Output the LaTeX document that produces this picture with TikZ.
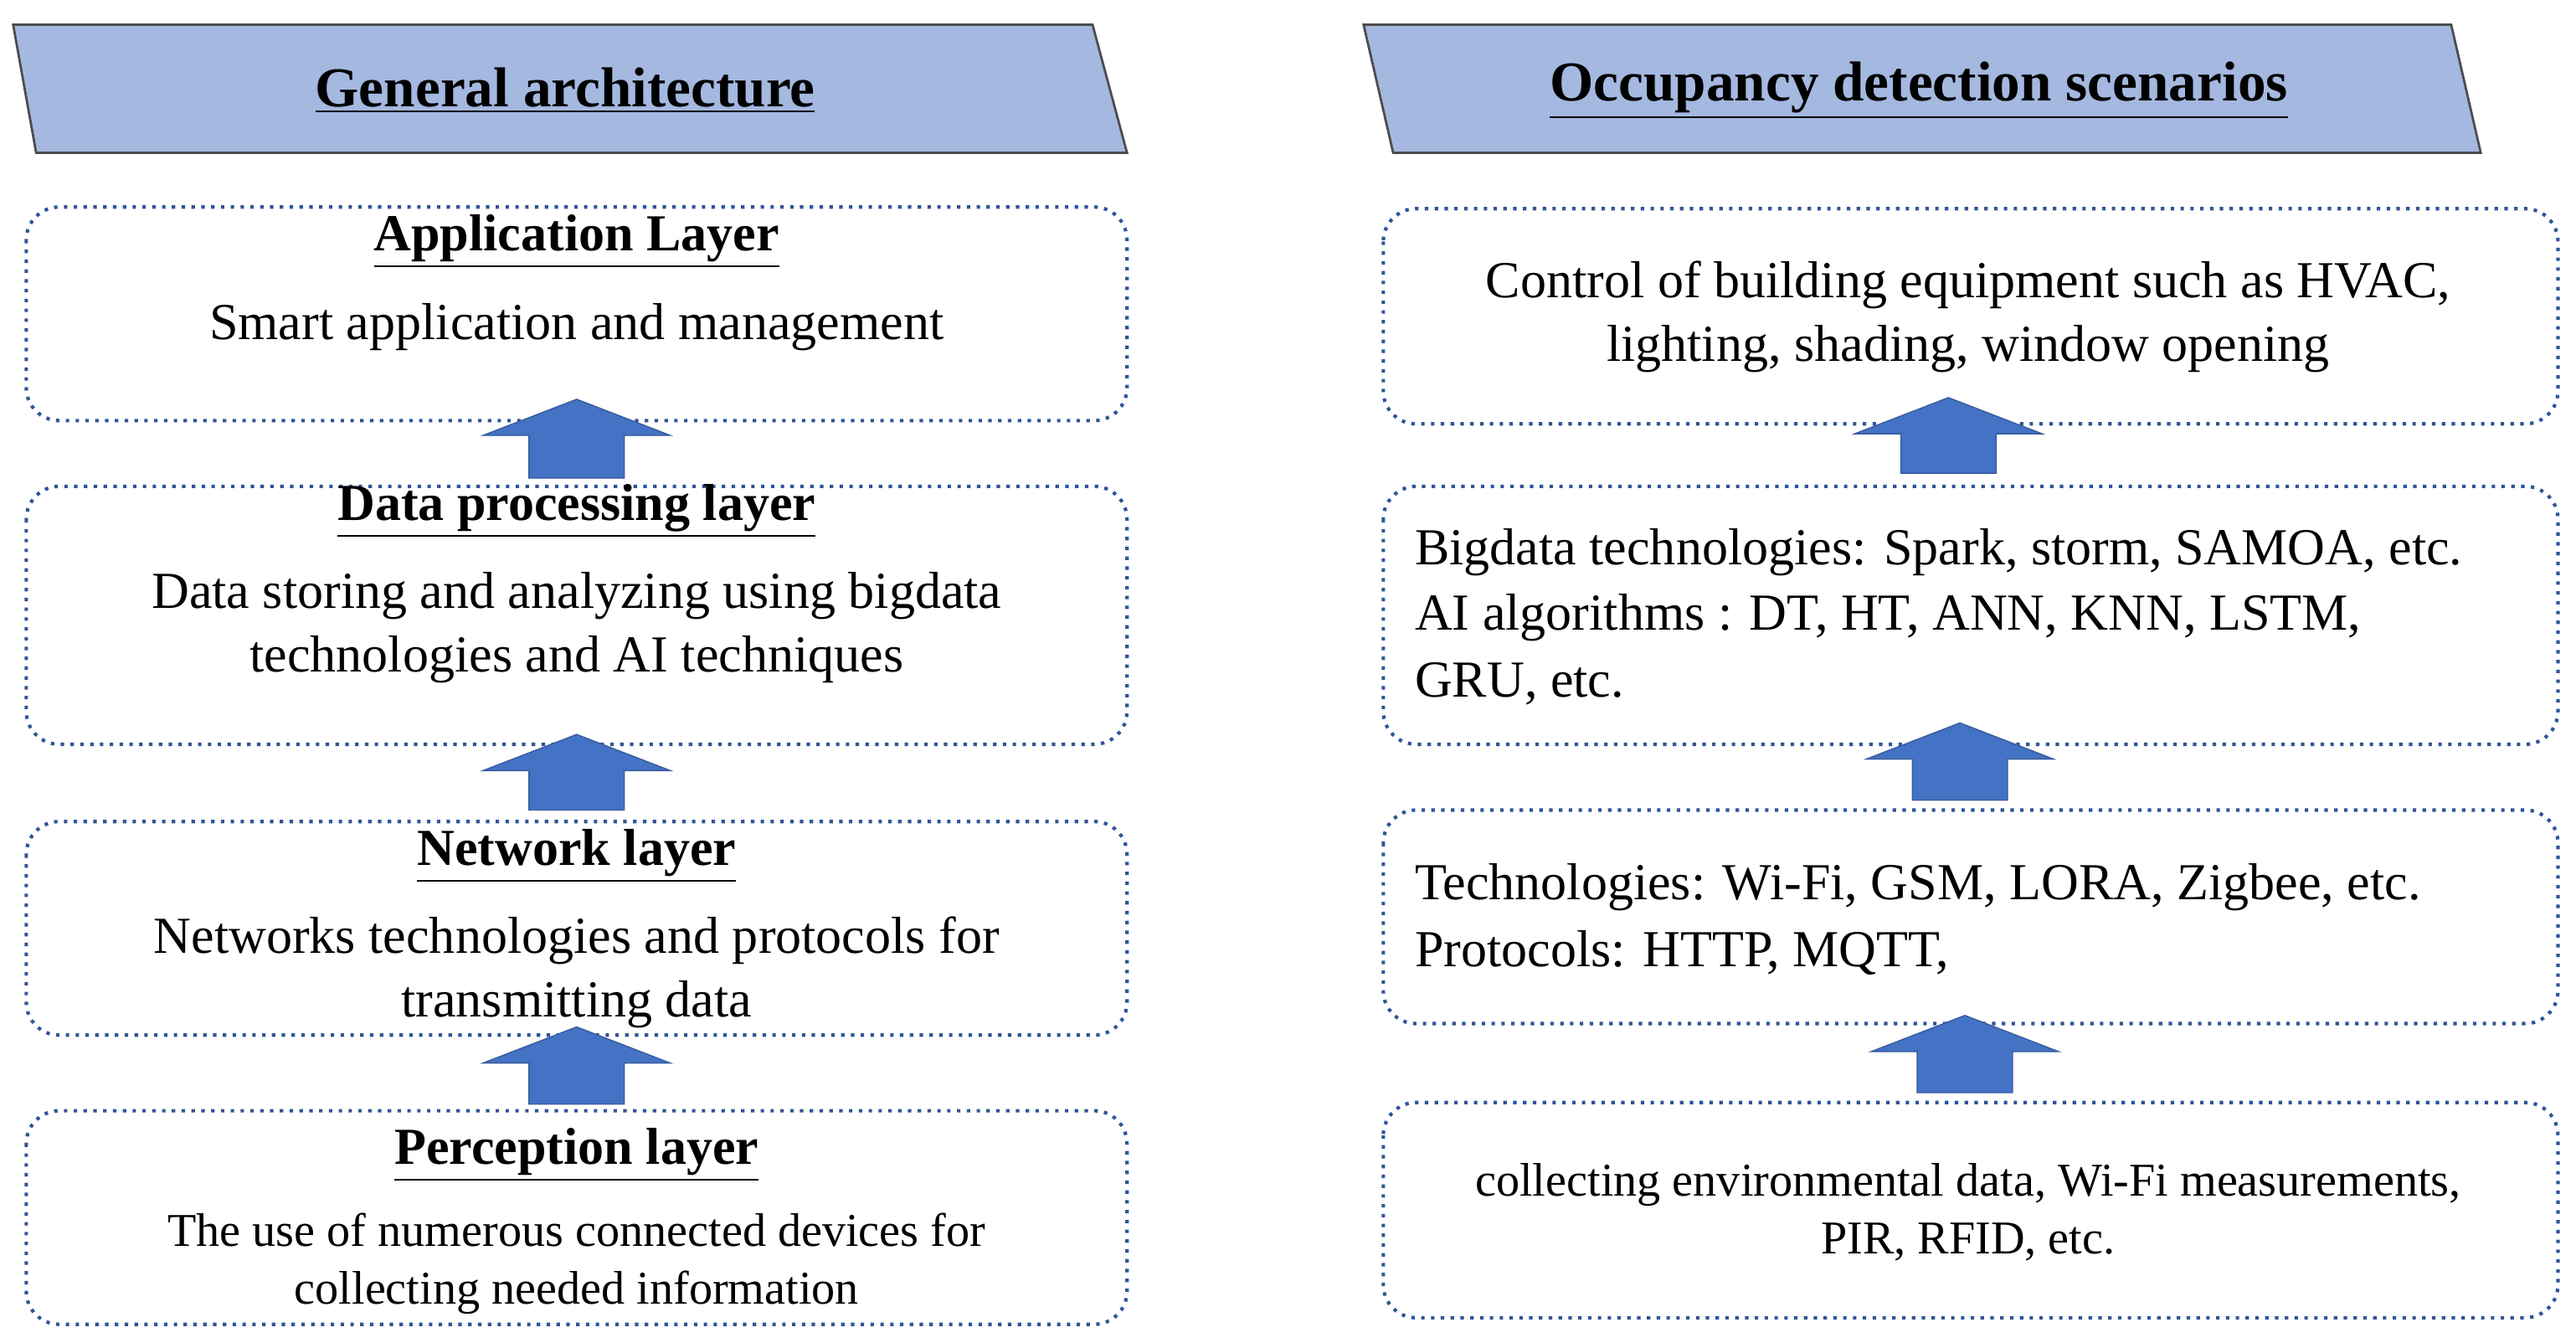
\documentclass[tikz,border=0pt]{standalone}
\usepackage{fontspec}
\setmainfont{Liberation Serif}
\definecolor{hdr}{HTML}{A4B8E0}
\definecolor{arr}{HTML}{4472C4}
\definecolor{dotb}{HTML}{2F5597}
\begin{document}
\begin{tikzpicture}[x=0.02cm,y=-0.02cm,
  box/.style={draw=dotb,line width=1.2pt,dash pattern=on 1.2pt off 2.2pt,rounded corners=0.4cm},
  hdrs/.style={fill=hdr,draw=black!70,line width=0.8pt},
  up/.style={fill=arr,draw=arr!80!black,line width=0.4pt},
  ttl/.style={font=\fontsize{18}{20}\selectfont\bfseries},
  htl/.style={font=\fontsize{19.5}{22}\selectfont\bfseries},
  bd/.style={font=\fontsize{18}{22}\selectfont,align=center},
  bdl/.style={font=\fontsize{18}{22}\selectfont,anchor=west},
  sm/.style={font=\fontsize{16.3}{20}\selectfont,align=center}]
\useasboundingbox (0,0) rectangle (1568,817);
\fill[white] (0,0) rectangle (1568,817);
% headers
\draw[hdrs] (8,15) -- (665,15) -- (686,93) -- (22,93) -- cycle;
\draw[hdrs] (830,15) -- (1492,15) -- (1510,93) -- (848,93) -- cycle;
\node[htl] (h1) at (344,55) {\underline{General architecture}};
\node[htl] (h2) at (1168,55) {\underline{Occupancy detection scenarios}};
% left boxes
\draw[box] (16,126) rectangle (686,256);
\draw[box] (16,296) rectangle (686,453);
\draw[box] (16,500) rectangle (686,630);
\draw[box] (16,676) rectangle (686,806);
% right boxes
\draw[box] (842,127) rectangle (1557,258);
\draw[box] (842,296) rectangle (1557,453);
\draw[box] (842,493) rectangle (1557,623);
\draw[box] (842,671) rectangle (1557,802);
% arrows
\foreach \cx/\ty/\by in {351/243/291, 351/447/493, 351/625/672, 1186/242/288, 1193/440/487, 1196/618/665}{
  \draw[up] (\cx-29,\by) -- (\cx+29,\by) -- (\cx+29,\ty+22) -- (\cx+57,\ty+22) -- (\cx,\ty) -- (\cx-57,\ty+22) -- (\cx-29,\ty+22) -- cycle;
}
% left texts
\node[ttl] (t1) at (351,147) {\underline{Application Layer}};
\node[bd] (b1) at (351,199) {Smart application and management};
\node[ttl] (t2) at (351,311) {\underline{Data processing layer}};
\node[bd] (b2) at (351,382) {Data storing and analyzing using bigdata\\technologies and AI techniques};
\node[ttl] (t3) at (351,521) {\underline{Network layer}};
\node[bd] (b3) at (351,592) {Networks technologies and protocols for\\transmitting data};
\node[ttl] (t4) at (351,703) {\underline{Perception layer}};
\node[sm] (b4) at (351,769) {The use of numerous connected devices for\\collecting needed information};
% right texts
\node[bd] (r1) at (1198,193) {Control of building equipment such as HVAC,\\lighting, shading, window opening};
\node[bdl] (r2a) at (855,336) {Bigdata technologies: Spark, storm, SAMOA, etc.};
\node[bdl] (r2b) at (855,376) {AI algorithms : DT, HT, ANN, KNN, LSTM,};
\node[bdl] (r2c) at (855,416) {GRU, etc.};
\node[bdl] (r3a) at (855,540) {Technologies: Wi-Fi, GSM, LORA, Zigbee, etc.};
\node[bdl] (r3b) at (855,580) {Protocols: HTTP, MQTT,};
\node[sm] (r4) at (1198,738) {collecting environmental data, Wi-Fi measurements,\\PIR, RFID, etc.};
\end{tikzpicture}
\end{document}
